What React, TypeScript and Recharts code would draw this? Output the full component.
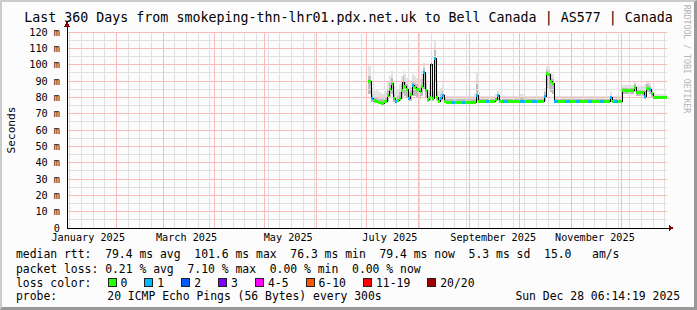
import React from "react";
import { ComposedChart, XAxis, YAxis, ReferenceLine, Area, Line } from "recharts";

const MONO = "'DejaVu Sans Mono', monospace";

// graph window: 360 days ending Sun Dec 28 06:14:19 2025
const START = Date.UTC(2025, 0, 2, 6, 14, 19);
const DAY_MS = 86400000;
const dayOf = (m: number, d: number) => (Date.UTC(2025, m, d) - START) / DAY_MS;

const monthLabels = [
  "January 2025",
  "March 2025",
  "May 2025",
  "July 2025",
  "September 2025",
  "November 2025",
];
const labelMonths = [0, 2, 4, 6, 8, 10];
const yTicks = [0, 10, 20, 30, 40, 50, 60, 70, 80, 90, 100, 110, 120];
const yMinor = [5, 15, 25, 35, 45, 55, 65, 75, 85, 95, 105, 115];

// samples: day since start, median rtt (ms), lost pings, smoke min / mid / max (ms)
const days = [
  180.6, 182.4, 183.6, 185.4, 186.6, 188.4, 190.2, 192.0, 193.2, 194.4,
  195.6, 196.8, 198.0, 199.2, 200.4, 201.3, 202.2, 203.4, 204.6, 205.8,
  207.0, 208.2, 209.4, 210.6, 211.5, 212.4, 213.6, 214.8, 216.0, 217.2,
  218.1, 219.0, 220.2, 221.4, 222.6, 223.8, 225.0,
  226.2, 227.4, 231.0, 232.8, 237.0, 238.8, 244.2, 245.4, 246.6, 247.8,
  251.4, 253.2, 256.8, 258.0, 259.2, 261.6, 264.6, 271.8, 274.8, 279.0,
  282.0, 285.0, 286.2, 287.4, 288.6, 289.8, 291.0, 292.2, 294.6, 298.8,
  301.8, 305.4, 307.8, 312.6, 315.0, 319.8, 322.2, 325.8, 327.0, 328.2,
  330.6, 333.0, 336.6, 340.2, 341.4, 344.4, 346.2, 347.4, 349.2, 350.4,
  351.6, 355.8, 360.0,
];
const median = [
  89.6, 79.4, 78.0, 77.5, 76.8, 76.5, 77.2, 81.4, 85.0, 88.6,
  79.0, 77.2, 78.3, 79.4, 84.0, 89.0, 86.5, 85.0, 79.4, 82.0,
  87.0, 86.0, 85.0, 84.5, 83.3, 86.5, 95.0, 84.0, 78.4, 80.0,
  100.0, 79.4, 104.0, 80.0, 77.3, 79.5, 81.4,
  77.3, 77.0, 77.0, 77.0, 77.0, 77.0, 77.0, 81.4, 77.5, 77.2,
  77.2, 77.2, 78.5, 81.4, 77.5, 77.2, 77.2, 77.2, 77.2, 77.2,
  77.2, 77.2, 80.8, 94.7, 93.9, 89.6, 88.6, 77.4, 77.2, 77.2,
  77.2, 77.2, 77.2, 77.2, 77.2, 77.2, 77.2, 80.0, 77.5, 77.2,
  77.2, 84.0, 84.0, 86.0, 83.1, 83.1, 80.8, 85.5, 84.5, 82.5,
  79.8, 79.8, 79.8,
];
const loss = [
  0, 1, 0, 0, 0, 0, 0, 0, 0, 0,
  0, 1, 0, 0, 0, 0, 0, 0, 1, 0,
  1, 0, 0, 0, 0, 0, 1, 0, 0, 0,
  1, 0, 1, 0, 0, 1, 1,
  0, 0, 1, 0, 1, 0, 0, 1, 0, 0,
  1, 0, 0, 1, 0, 1, 0, 1, 0, 1,
  0, 0, 1, 0, 0, 0, 0, 1, 0, 1,
  0, 1, 0, 1, 0, 1, 0, 1, 0, 1,
  0, 0, 0, 0, 0, 0, 1, 0, 1, 0,
  0, 0, 0,
];
const smokeLo = [
  82, 77, 76.5, 76.5, 76, 76, 76.5, 78, 80, 82,
  77, 76.5, 77, 77.5, 79, 82, 81, 80, 77.5, 78,
  81, 81, 80, 80, 79, 81, 85, 80, 77, 78,
  88, 77.5, 90, 78, 76.5, 77.5, 78,
  76.5, 76.5, 76.5, 76.5, 76.5, 76.5, 76.5, 78, 76.5, 76.5,
  76.5, 76.5, 77, 78, 76.5, 76.5, 76.5, 76.5, 76.5, 76.5,
  76.5, 76.5, 78, 86, 85, 83, 82, 76.5, 76.5, 76.5,
  76.5, 76.5, 76.5, 76.5, 76.5, 76.5, 76.5, 77, 76.5, 76.5,
  76.5, 82, 82, 83, 81, 81, 79, 83, 82, 80.5,
  79, 79, 79,
];
const smokeMid = [
  93, 82, 80, 80, 79, 79, 80, 85, 89, 92,
  82, 80, 81, 83, 88, 93, 90, 88, 83, 86,
  90, 89, 88, 88, 87, 91, 98, 89, 81, 84,
  105, 84, 109, 84, 80, 82, 84,
  79.5, 79, 79, 79, 79, 79, 79, 88, 80, 79,
  79, 79, 80, 82, 79, 79, 79, 79.5, 79, 79,
  79, 79, 83, 97, 96, 92, 91, 79, 79, 79,
  79, 79, 79, 79, 79, 79, 79, 81, 79, 79,
  79, 86, 86, 88, 85, 85, 84, 88, 87, 84,
  81, 81, 81,
];
const smokeHi = [
  99, 86, 84, 85, 83, 82, 84, 90, 93, 96,
  87, 84, 85, 88, 93, 97, 94, 92, 87, 90,
  94, 93, 92, 92, 91, 96, 101, 94, 85, 89,
  111, 90, 115, 90, 84, 86, 88,
  82, 81, 81, 81, 81, 81, 82, 95, 83, 81,
  81, 81, 82, 84, 81, 81, 81, 82, 81, 81,
  81, 81, 86, 99, 98, 95, 94, 81, 81, 81,
  81, 81, 81, 81, 81, 81, 81, 83, 81, 81,
  81, 87.5, 87.5, 90, 87, 87, 88, 90, 89, 86,
  82, 82, 82,
];

const lossColors = [
  { label: "0", color: "#26ff00" },
  { label: "1", color: "#00b8ff" },
  { label: "2", color: "#0059ff" },
  { label: "3", color: "#7e00ff" },
  { label: "4-5", color: "#ff00ff" },
  { label: "6-10", color: "#ff5500" },
  { label: "11-19", color: "#ff0000" },
  { label: "20/20", color: "#a10000" },
];

const labelDays = labelMonths.map((m) => dayOf(m, 15));
const monthStarts = [1, 2, 3, 4, 5, 6, 7, 8, 9, 10, 11].map((m) => dayOf(m, 1));
const weekLines: number[] = [];
for (let d = dayOf(0, 4); d < 360; d += 7) weekLines.push(d);

const smokeRows = days.map((day, i) => ({
  day,
  outer: [smokeLo[i], smokeHi[i]],
  inner: [smokeLo[i], smokeMid[i]],
}));
const medianRows = days.map((day, i) => ({ day, med: median[i] }));

// colored median band: one flat piece per sample, broken between pieces
const bandRows = (code: number) => {
  const rows: { day: number; v: number | null }[] = [];
  for (let i = 0; i < days.length - 1; i++) {
    if (loss[i] !== code) continue;
    rows.push({ day: days[i], v: median[i] });
    rows.push({ day: days[i + 1], v: median[i] });
    rows.push({ day: days[i + 1], v: null });
  }
  return rows;
};

const CW = 6.86; // legend char width
const MINOR = "#e0e0e0";
const MAJOR = "#f6bcbc";

const Row = ({ y, children }: { y: number; children: React.ReactNode }) => (
  <div
    style={{
      position: "absolute",
      left: 16,
      top: y - 7,
      height: 14,
      lineHeight: "14px",
      fontFamily: MONO,
      fontSize: 11.4,
      whiteSpace: "pre",
      color: "#000",
    }}
  >
    {children}
  </div>
);

const LossLegend = () => {
  let x = 107.5;
  const items = lossColors.map((lc) => {
    const bx = x;
    const lx = bx + 13;
    x = lx + lc.label.length * CW + 17;
    return (
      <React.Fragment key={lc.label}>
        <div
          style={{
            position: "absolute",
            left: bx,
            top: 278,
            width: 9,
            height: 9,
            boxSizing: "border-box",
            border: "1px solid #222",
            background: lc.color,
          }}
        />
        <div
          style={{
            position: "absolute",
            left: lx,
            top: 275.5,
            lineHeight: "14px",
            fontFamily: MONO,
            fontSize: 11.4,
            whiteSpace: "pre",
          }}
        >
          {lc.label}
        </div>
      </React.Fragment>
    );
  });
  return <>{items}</>;
};

const css = `
.recharts-cartesian-axis-line { shape-rendering: crispEdges; }
.recharts-reference-line-line { shape-rendering: crispEdges; }
.recharts-line-curve { shape-rendering: crispEdges; }
.recharts-area-area { shape-rendering: crispEdges; }
`;

export default function App() {
  return (
    <div
      style={{
        position: "absolute",
        left: 0,
        top: 0,
        width: 697,
        height: 310,
        background: "#fcfcfc",
        overflow: "hidden",
      }}
    >
      <style>{css}</style>
      <ComposedChart
        width={697}
        height={310}
        margin={{ top: 32, right: 30, bottom: 62, left: 0 }}
      >
        <XAxis
          dataKey="day"
          type="number"
          domain={[0, 360]}
          allowDataOverflow
          ticks={labelDays}
          interval={0}
          tickFormatter={(v: number, i: number) => monthLabels[i] ?? monthLabels[labelDays.indexOf(v)]}
          tick={{ fontFamily: MONO, fontSize: 10.2, fill: "#000" }}
          tickLine={false}
          tickSize={0}
          tickMargin={6}
          axisLine={{ stroke: "#000" }}
          height={20}
        />
        <YAxis
          type="number"
          domain={[0, 120]}
          ticks={yTicks}
          interval={0}
          tickFormatter={(v: number) => (v === 0 ? "0" : `${v} m`)}
          tick={{ fontFamily: MONO, fontSize: 10.2, fill: "#000" }}
          tickLine={false}
          tickSize={0}
          tickMargin={7}
          axisLine={{ stroke: "#000" }}
          width={67}
        />
        {weekLines.map((d) => (
          <ReferenceLine key={`w${d}`} x={d} stroke={MINOR} strokeWidth={1} />
        ))}
        {yMinor.map((v) => (
          <ReferenceLine key={`m${v}`} y={v} stroke={MINOR} strokeWidth={1} />
        ))}
        {monthStarts.map((d) => (
          <ReferenceLine key={`M${d}`} x={d} stroke={MAJOR} strokeWidth={1} />
        ))}
        {yTicks.slice(1).map((v) => (
          <ReferenceLine key={`Y${v}`} y={v} stroke={MAJOR} strokeWidth={1} />
        ))}
        <Area
          data={smokeRows}
          dataKey="outer"
          type="stepAfter"
          stroke="none"
          fill="#e2e2e2"
          fillOpacity={1}
          isAnimationActive={false}
        />
        <Area
          data={smokeRows}
          dataKey="inner"
          type="stepAfter"
          stroke="none"
          fill="#bdbdbd"
          fillOpacity={1}
          isAnimationActive={false}
        />
        <Line
          data={medianRows}
          dataKey="med"
          type="stepAfter"
          stroke="#000"
          strokeWidth={1}
          dot={false}
          isAnimationActive={false}
        />
        <Line
          data={bandRows(0)}
          dataKey="v"
          type="linear"
          stroke="#26ff00"
          strokeWidth={3}
          dot={false}
          connectNulls={false}
          isAnimationActive={false}
        />
        <Line
          data={bandRows(1)}
          dataKey="v"
          type="linear"
          stroke="#00b8ff"
          strokeWidth={3}
          dot={false}
          connectNulls={false}
          isAnimationActive={false}
        />
      </ComposedChart>

      <svg
        width={697}
        height={310}
        style={{ position: "absolute", left: 0, top: 0, pointerEvents: "none" }}
        shapeRendering="crispEdges"
      >
        <line x1={67} y1={32} x2={67} y2={25} stroke="#000" />
        <polygon points="64,27 70,27 67,21" fill="#8b0000" />
        <line x1={667} y1={228} x2={670} y2={228} stroke="#000" />
        <polygon points="669,225 669,231 674,228" fill="#8b0000" />
      </svg>

      <div
        style={{
          position: "absolute",
          left: 0,
          top: 9.5,
          width: 697,
          textAlign: "center",
          lineHeight: "16px",
          fontFamily: MONO,
          fontSize: 13.3,
          whiteSpace: "pre",
          color: "#000",
        }}
      >
        Last 360 Days from smokeping-thn-lhr01.pdx.net.uk to Bell Canada | AS577 | Canada
      </div>

      <div
        style={{
          position: "absolute",
          left: 10.5,
          top: 130,
          transform: "translate(-50%, -50%) rotate(-90deg)",
          fontFamily: MONO,
          fontSize: 11.1,
          whiteSpace: "pre",
          color: "#000",
        }}
      >
        Seconds
      </div>

      <div
        style={{
          position: "absolute",
          left: 686.5,
          top: 59,
          transform: "translate(-50%, -50%) rotate(90deg)",
          fontFamily: MONO,
          fontSize: 8.2,
          whiteSpace: "pre",
          color: "#b4b4b4",
        }}
      >
        RRDTOOL / TOBI OETIKER
      </div>

      <Row y={254.3}>
        {"median rtt:  79.4 ms avg  101.6 ms max  76.3 ms min  79.4 ms now  5.3 ms sd  15.0   am/s"}
      </Row>
      <Row y={268.5}>{"packet loss: 0.21 % avg  7.10 % max  0.00 % min  0.00 % now"}</Row>
      <Row y={282.5}>{"loss color:"}</Row>
      <LossLegend />
      <Row y={296.3}>{"probe:"}</Row>
      <div
        style={{
          position: "absolute",
          left: 107.3,
          top: 289.3,
          lineHeight: "14px",
          fontFamily: MONO,
          fontSize: 11.4,
          whiteSpace: "pre",
        }}
      >
        20 ICMP Echo Pings (56 Bytes) every 300s
      </div>
      <div
        style={{
          position: "absolute",
          right: 17,
          top: 289.3,
          lineHeight: "14px",
          fontFamily: MONO,
          fontSize: 11.4,
          whiteSpace: "pre",
        }}
      >
        Sun Dec 28 06:14:19 2025
      </div>

      <div
        style={{
          position: "absolute",
          inset: 0,
          borderLeft: "2px solid #cbcbcb",
          borderTop: "2px solid #cbcbcb",
          borderRight: "3px solid #999999",
          borderBottom: "3px solid #999999",
          pointerEvents: "none",
        }}
      />
    </div>
  );
}
